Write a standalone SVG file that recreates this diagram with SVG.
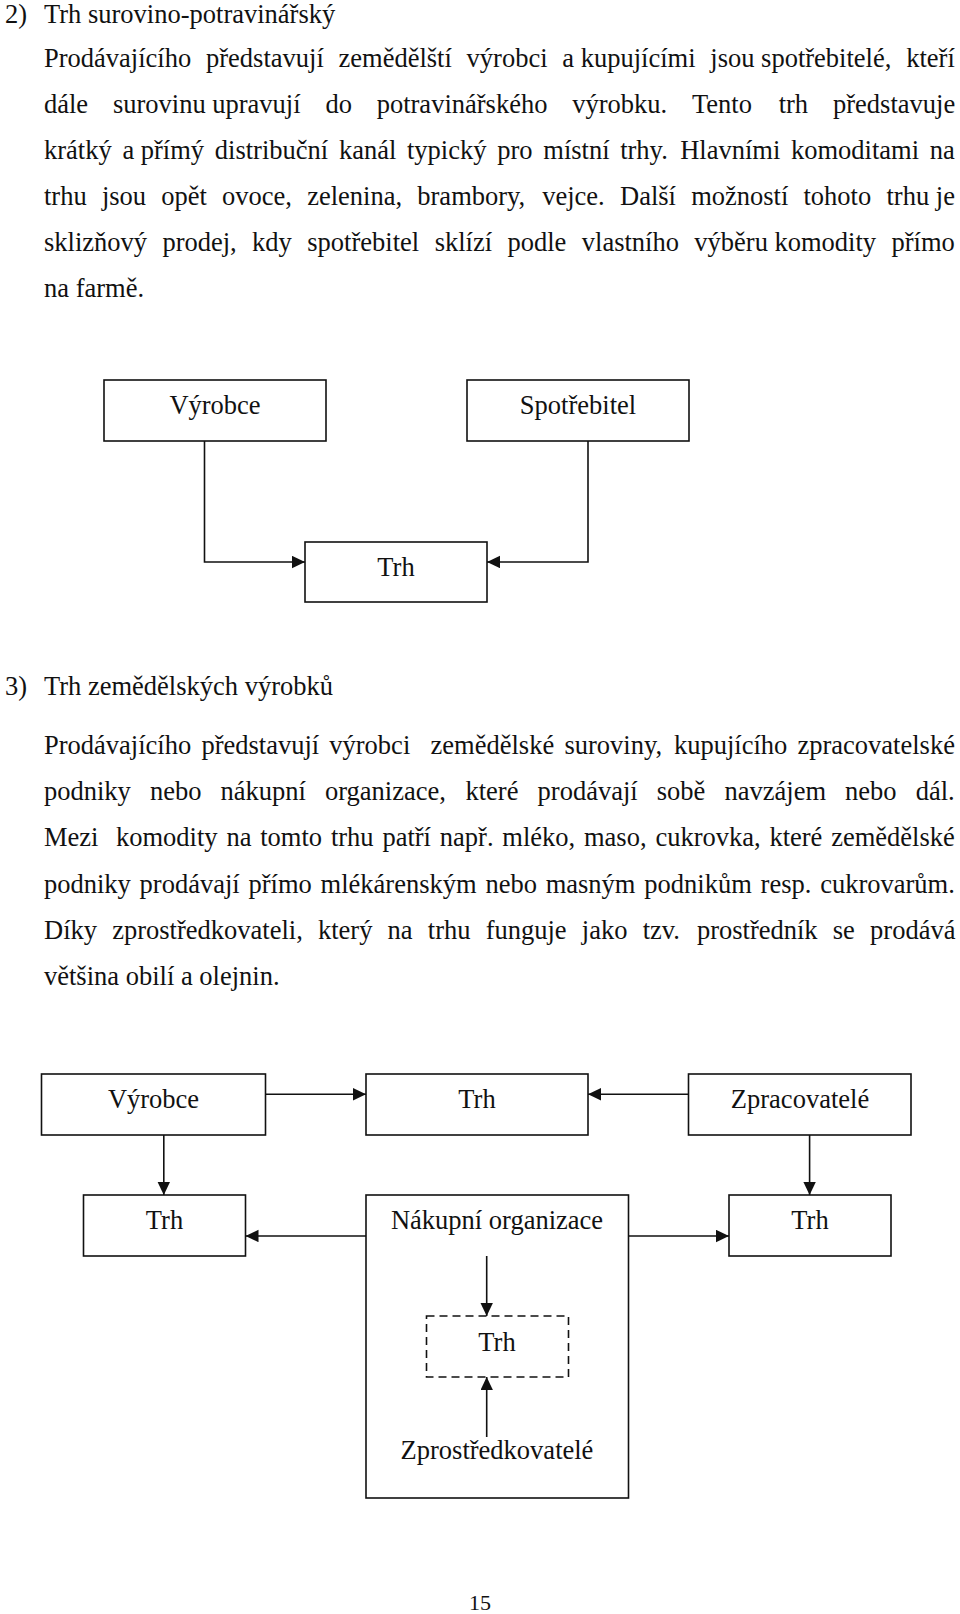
<svg xmlns="http://www.w3.org/2000/svg" width="960" height="1614" viewBox="0 0 960 1614">
<style>
text{font-family:"Liberation Serif","Times New Roman",serif;font-size:26.5px;fill:#111}
.c{text-anchor:middle}
.box{fill:#fff;stroke:#111;stroke-width:1.6}
.dash{fill:#fff;stroke:#111;stroke-width:1.6;stroke-dasharray:8 5}
.ln{fill:none;stroke:#111;stroke-width:1.6}
.pg{font-size:22px}
</style>
<defs>
<marker id="ah" markerUnits="userSpaceOnUse" markerWidth="14" markerHeight="14" refX="13" refY="6.2" orient="auto">
<path d="M0,0 L13,6.2 L0,12.4 z" fill="#111"/>
</marker>
</defs>
<rect width="960" height="1614" fill="#fff"/>

<g id="text-section2">
<text y="22.5"><tspan x="5">2)</tspan><tspan x="44">Trh surovino-potravinářský</tspan></text>
<text y="66.5"><tspan x="44">Prodávajícího</tspan><tspan x="206">představují</tspan><tspan x="338.5">zemědělští</tspan><tspan x="466.6">výrobci</tspan><tspan x="562.3">a kupujícími</tspan><tspan x="710.3">jsou spotřebitelé,</tspan><tspan x="906.2">kteří</tspan></text>
<text y="112.5"><tspan x="44">dále</tspan><tspan x="112.9">surovinu upravují</tspan><tspan x="325.4">do</tspan><tspan x="376.7">potravinářského</tspan><tspan x="572.2">výrobku.</tspan><tspan x="692">Tento</tspan><tspan x="778.7">trh</tspan><tspan x="833">představuje</tspan></text>
<text y="158.5"><tspan x="44">krátký</tspan><tspan x="122.4">a přímý</tspan><tspan x="214.8">distribuční</tspan><tspan x="338.9">kanál</tspan><tspan x="407">typický</tspan><tspan x="497.2">pro</tspan><tspan x="543.3">místní</tspan><tspan x="620.2">trhy.</tspan><tspan x="680.2">Hlavními</tspan><tspan x="791">komoditami</tspan><tspan x="929.8">na</tspan></text>
<text y="204.5"><tspan x="44">trhu</tspan><tspan x="101.9">jsou</tspan><tspan x="161.2">opět</tspan><tspan x="222.1">ovoce,</tspan><tspan x="307.2">zelenina,</tspan><tspan x="417.3">brambory,</tspan><tspan x="542.2">vejce.</tspan><tspan x="620">Další</tspan><tspan x="691.2">možností</tspan><tspan x="803.5">tohoto</tspan><tspan x="886.5">trhu je</tspan></text>
<text y="250.5"><tspan x="44">sklizňový</tspan><tspan x="162.4">prodej,</tspan><tspan x="252.1">kdy</tspan><tspan x="307.3">spotřebitel</tspan><tspan x="434.7">sklízí</tspan><tspan x="507.5">podle</tspan><tspan x="581.8">vlastního</tspan><tspan x="694.3">výběru komodity</tspan><tspan x="891.5">přímo</tspan></text>
<text y="296.5"><tspan x="44">na farmě.</tspan></text>
</g>

<g id="diagram1-nodes">
<g id="d1-vyrobce"><rect class="box" x="104" y="380" width="222" height="61"/><text class="c" x="215" y="414">Výrobce</text></g>
<g id="d1-spotrebitel"><rect class="box" x="467" y="380" width="222" height="61"/><text class="c" x="578" y="414">Spotřebitel</text></g>
<g id="d1-trh"><rect class="box" x="305" y="542" width="182" height="60"/><text class="c" x="396" y="576">Trh</text></g>
</g>
<g id="diagram1-connectors">
<path class="ln" d="M204.5,441 V562 H305" marker-end="url(#ah)"/>
<path class="ln" d="M588,441 V562 H487" marker-end="url(#ah)"/>
</g>

<g id="text-section3">
<text y="695"><tspan x="5">3)</tspan><tspan x="44">Trh zemědělských výrobků</tspan></text>
<text y="754"><tspan x="44">Prodávajícího</tspan><tspan x="201.4">představují</tspan><tspan x="329.3">výrobci</tspan><tspan x="430.6">zemědělské</tspan><tspan x="564.4">suroviny,</tspan><tspan x="674">kupujícího</tspan><tspan x="797.5">zpracovatelské</tspan></text>
<text y="800.2"><tspan x="44">podniky</tspan><tspan x="149.9">nebo</tspan><tspan x="220.5">nákupní</tspan><tspan x="325">organizace,</tspan><tspan x="465.5">které</tspan><tspan x="537.6">prodávají</tspan><tspan x="656.8">sobě</tspan><tspan x="724.5">navzájem</tspan><tspan x="845.1">nebo</tspan><tspan x="915.7">dál.</tspan></text>
<text y="846.4"><tspan x="44">Mezi</tspan><tspan x="116">komodity</tspan><tspan x="226.4">na</tspan><tspan x="260.2">tomto</tspan><tspan x="330.9">trhu</tspan><tspan x="382.4">patří</tspan><tspan x="439.8">např.</tspan><tspan x="502.3">mléko,</tspan><tspan x="584">maso,</tspan><tspan x="655.4">cukrovka,</tspan><tspan x="769.4">které</tspan><tspan x="831.2">zemědělské</tspan></text>
<text y="892.6"><tspan x="44">podniky</tspan><tspan x="139.6">prodávají</tspan><tspan x="248.5">přímo</tspan><tspan x="320.6">mlékárenským</tspan><tspan x="485.4">nebo</tspan><tspan x="545.7">masným</tspan><tspan x="644.3">podnikům</tspan><tspan x="760.6">resp.</tspan><tspan x="820.2">cukrovarům.</tspan></text>
<text y="938.8"><tspan x="44">Díky</tspan><tspan x="112.2">zprostředkovateli,</tspan><tspan x="318">který</tspan><tspan x="387.6">na</tspan><tspan x="427.8">trhu</tspan><tspan x="485.7">funguje</tspan><tspan x="581.8">jako</tspan><tspan x="642.7">tzv.</tspan><tspan x="696.9">prostředník</tspan><tspan x="832.8">se</tspan><tspan x="870.1">prodává</tspan></text>
<text y="985"><tspan x="44">většina obilí a olejnin.</tspan></text>
</g>

<g id="diagram2-nodes">
<g id="d2-vyrobce"><rect class="box" x="41.5" y="1074" width="224" height="61"/><text class="c" x="153.5" y="1108">Výrobce</text></g>
<g id="d2-trh-top"><rect class="box" x="366" y="1074" width="222" height="61"/><text class="c" x="477" y="1108">Trh</text></g>
<g id="d2-zpracovatele"><rect class="box" x="688.5" y="1074" width="222.5" height="61"/><text class="c" x="800" y="1108">Zpracovatelé</text></g>
<g id="d2-trh-left"><rect class="box" x="83.5" y="1195" width="162" height="61"/><text class="c" x="164.5" y="1229">Trh</text></g>
<g id="d2-nakupni"><rect class="box" x="366" y="1195" width="262.5" height="303"/><text class="c" x="497" y="1229">Nákupní organizace</text></g>
<g id="d2-trh-right"><rect class="box" x="729" y="1195" width="162" height="61"/><text class="c" x="810" y="1229">Trh</text></g>
<g id="d2-trh-dashed"><rect class="dash" x="426.5" y="1316" width="142" height="61"/><text class="c" x="497" y="1351">Trh</text></g>
<g id="d2-zprostredkovatele"><text class="c" x="497" y="1459">Zprostředkovatelé</text></g>
</g>
<g id="diagram2-connectors">
<path class="ln" d="M265.5,1094.3 H366" marker-end="url(#ah)"/>
<path class="ln" d="M688.5,1094.3 H588" marker-end="url(#ah)"/>
<path class="ln" d="M163.8,1135 V1195" marker-end="url(#ah)"/>
<path class="ln" d="M809.6,1135 V1195" marker-end="url(#ah)"/>
<path class="ln" d="M366,1236 H245.5" marker-end="url(#ah)"/>
<path class="ln" d="M628.5,1236 H729" marker-end="url(#ah)"/>
<path class="ln" d="M486.7,1256 V1316" marker-end="url(#ah)"/>
<path class="ln" d="M486.7,1437 V1377" marker-end="url(#ah)"/>
</g>

<text class="c pg" x="480" y="1610">15</text>
</svg>
